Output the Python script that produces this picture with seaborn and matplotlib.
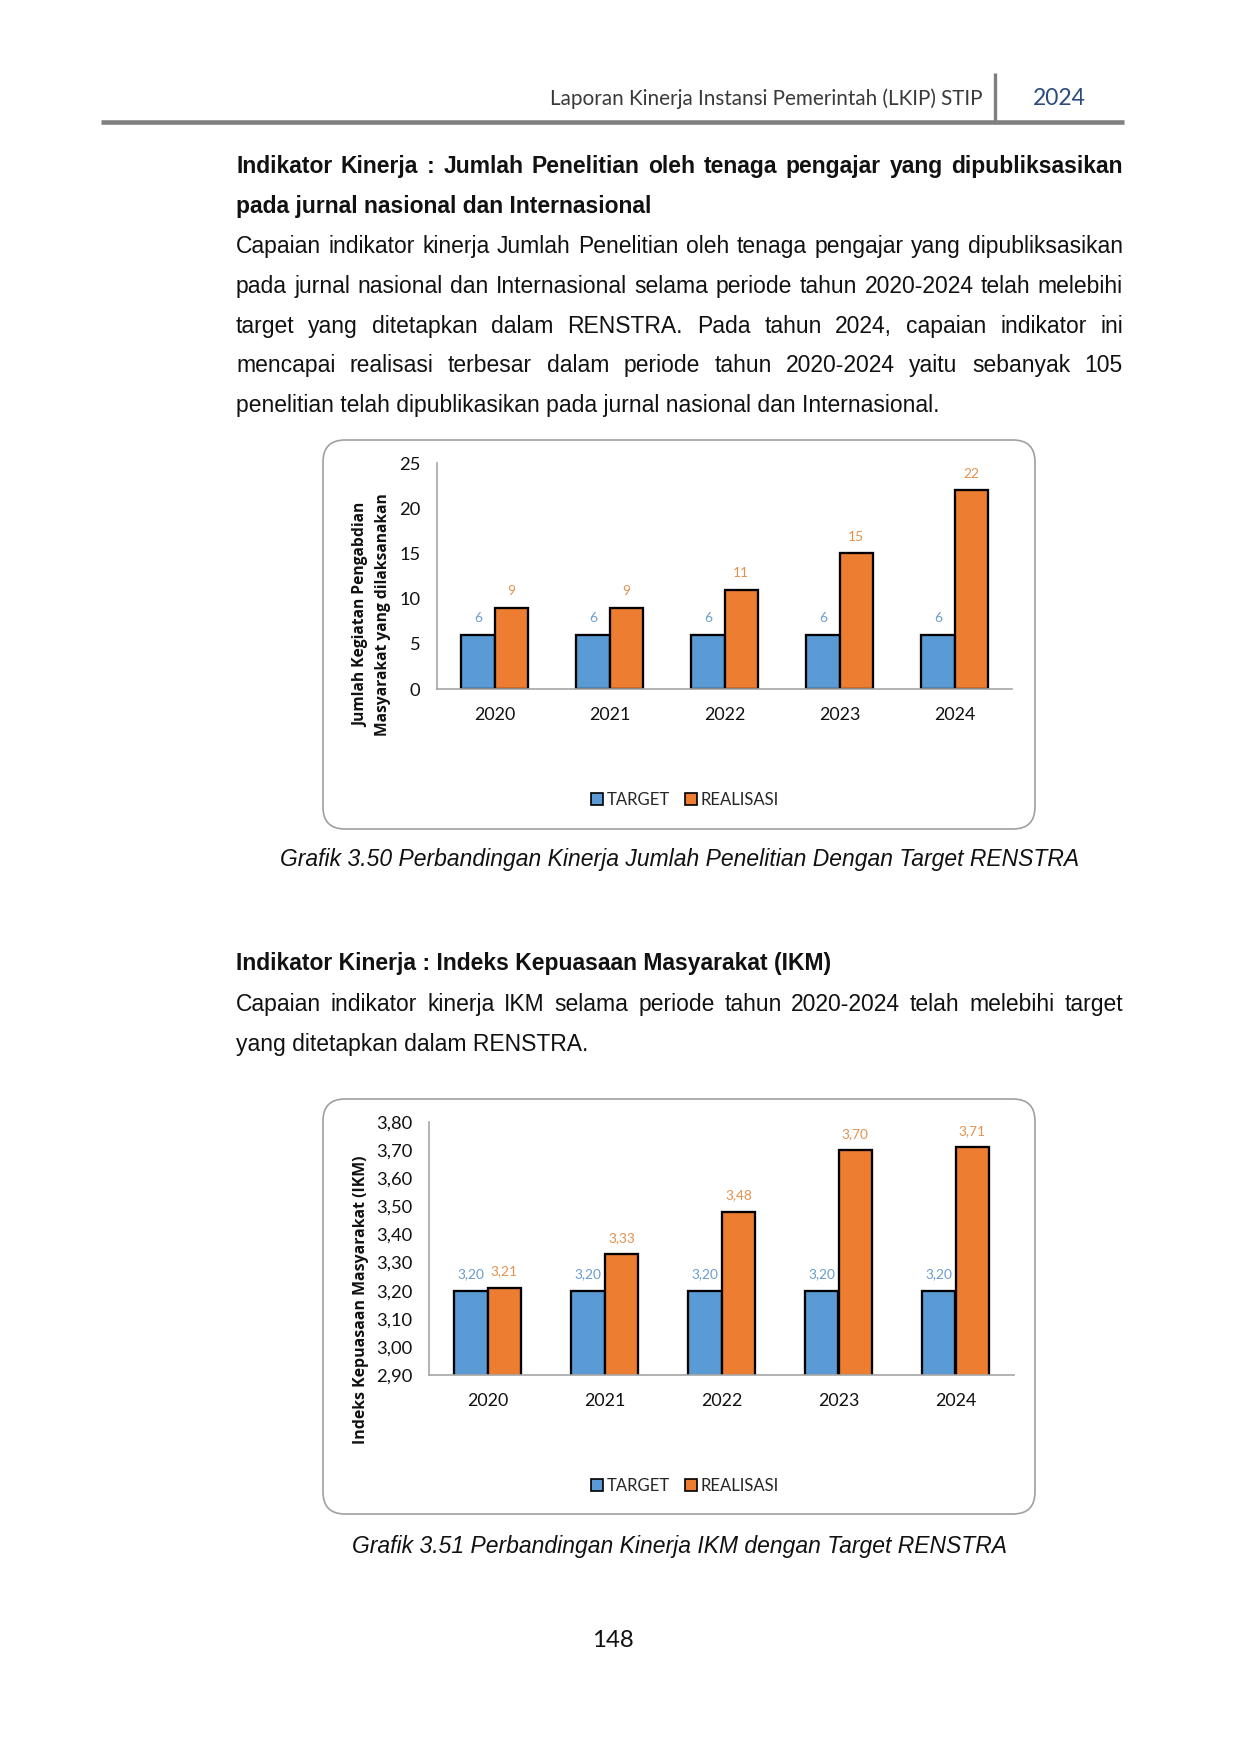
import numpy as np
import pandas as pd
import matplotlib
matplotlib.use("Agg")
import matplotlib.pyplot as plt
from matplotlib.patches import FancyBboxPatch, Patch
import seaborn as sns

# ── Data ──────────────────────────────────────────────────────────────────────
YEARS = ["2020", "2021", "2022", "2023", "2024"]
SERIES = ["TARGET", "REALISASI"]

PENELITIAN_TARGET = [6, 6, 6, 6, 6]
PENELITIAN_REALISASI = [9, 9, 11, 15, 22]
PENELITIAN_TICKS = [0, 5, 10, 15, 20, 25]

IKM_TARGET = [3.20, 3.20, 3.20, 3.20, 3.20]
IKM_REALISASI = [3.21, 3.33, 3.48, 3.70, 3.71]
IKM_TICKS = [2.90, 3.00, 3.10, 3.20, 3.30, 3.40, 3.50, 3.60, 3.70, 3.80]

# ── Page text ─────────────────────────────────────────────────────────────────
HEADER = "Laporan Kinerja Instansi Pemerintah (LKIP) STIP"
HEADER_YEAR = "2024"

HEAD1 = ["Indikator Kinerja : Jumlah Penelitian oleh tenaga pengajar yang dipubliksasikan",
         "pada jurnal nasional dan Internasional"]
BODY1 = ["Capaian indikator kinerja Jumlah Penelitian oleh tenaga pengajar yang dipubliksasikan",
         "pada jurnal nasional dan Internasional selama periode tahun 2020-2024 telah melebihi",
         "target yang ditetapkan dalam RENSTRA. Pada tahun 2024, capaian indikator ini",
         "mencapai realisasi terbesar dalam periode tahun 2020-2024 yaitu sebanyak 105",
         "penelitian telah dipublikasikan pada jurnal nasional dan Internasional."]
CAPTION1 = "Grafik 3.50 Perbandingan Kinerja Jumlah Penelitian Dengan Target RENSTRA"

HEAD2 = ["Indikator Kinerja : Indeks Kepuasaan Masyarakat (IKM)"]
BODY2 = ["Capaian indikator kinerja IKM selama periode tahun 2020-2024 telah melebihi target",
         "yang ditetapkan dalam RENSTRA."]
CAPTION2 = "Grafik 3.51 Perbandingan Kinerja IKM dengan Target RENSTRA"
PAGE_NO = "148"

YLABEL1 = "Jumlah Kegiatan Pengabdian\nMasyarakat yang dilaksanakan"
YLABEL2 = "Indeks Kepuasaan Masyarakat (IKM)"

# ── Style ─────────────────────────────────────────────────────────────────────
BLUE = "#5B9BD5"
ORANGE = "#ED7D31"
BLUE_LBL = "#6A9CCE"
ORANGE_LBL = "#E3914F"
TEXT = "#111111"
AXIS = "#a6a6a6"
BODY_FONT = "Liberation Sans"
CHART_FONT = "Lato"

sns.set_style("white")
plt.rcParams["font.family"] = ["Lato", "DejaVu Sans"]

W, H, DPI = 1241, 1754, 150
fig = plt.figure(figsize=(W / DPI, H / DPI), dpi=DPI)
bg = fig.add_axes([0, 0, 1, 1])
bg.set_xlim(0, W)
bg.set_ylim(H, 0)
bg.axis("off")
renderer = fig.canvas.get_renderer()

X0, X1 = 236, 1123
LINE = 39.8


def word_width(word, **kw):
    t = bg.text(0, 0, word, **kw)
    w = t.get_window_extent(renderer).width
    t.remove()
    return w


def paragraph(lines, y, **kw):
    """Justified paragraph, last line left aligned."""
    space = word_width("a b", **kw) - word_width("ab", **kw)
    for i, line in enumerate(lines):
        yy = y + i * LINE
        if i == len(lines) - 1:
            bg.text(X0, yy, line, va="baseline", ha="left", color=TEXT, **kw)
            continue
        words = line.split(" ")
        widths = [word_width(wd, **kw) for wd in words]
        gap = (X1 - X0 - sum(widths)) / (len(words) - 1)
        gap = max(gap, space * 0.8)
        x = X0
        for wd, ww in zip(words, widths):
            bg.text(x, yy, wd, va="baseline", ha="left", color=TEXT, **kw)
            x += ww + gap


body_kw = dict(family=BODY_FONT, fontsize=11)
bold_kw = dict(family=BODY_FONT, fontsize=11, weight="bold")

# header
bg.text(983, 105, HEADER, ha="right", va="baseline", family="Lato", fontsize=9.9, color="#3a3a3a")
bg.text(1059, 105, HEADER_YEAR, ha="center", va="baseline", family="Lato", fontsize=11, color="#2b4a7e")
bg.plot([995, 995], [73, 121], color="#7f7f7f", lw=1.6, solid_capstyle="butt")
bg.plot([101, 1124], [122, 122], color="#808080", lw=2.2, solid_capstyle="butt")

paragraph(HEAD1, 173, **bold_kw)
paragraph(BODY1, 253, **body_kw)
paragraph(HEAD2, 970, **bold_kw)
paragraph(BODY2, 1011, **body_kw)

bg.text(680, 866, CAPTION1, ha="center", va="baseline", family=BODY_FONT, fontsize=11,
        style="italic", color=TEXT)
bg.text(680, 1553, CAPTION2, ha="center", va="baseline", family=BODY_FONT, fontsize=11,
        style="italic", color=TEXT)
bg.text(613, 1647, PAGE_NO, ha="center", va="baseline", family="Lato", fontsize=11.5, color=TEXT)

# chart frames
for (top, bottom) in [(440, 829), (1099, 1514)]:
    bg.add_patch(FancyBboxPatch((323, top), 712, bottom - top,
                                boxstyle="round,pad=0,rounding_size=22",
                                facecolor="white", edgecolor="#a0a0a0", lw=0.8))


def px_axes(left, top, right, bottom):
    return fig.add_axes([left / W, 1 - bottom / H, (right - left) / W, (bottom - top) / H])


def fmt_comma(v):
    return f"{v:.2f}".replace(".", ",")


def fmt_int(v):
    return f"{v:g}"


def draw_chart(ax, target, realisasi, ticks, ylim, fmt):
    df = pd.DataFrame({"Tahun": YEARS * 2,
                       "Seri": [SERIES[0]] * len(YEARS) + [SERIES[1]] * len(YEARS),
                       "Nilai": list(target) + list(realisasi)})
    sns.barplot(data=df, x="Tahun", y="Nilai", hue="Seri", palette=[BLUE, ORANGE],
                width=0.576, edgecolor="black", linewidth=1.1, saturation=1,
                legend=False, ax=ax)
    ax.set_facecolor("none")
    ax.set_ylim(*ylim)
    ax.set_xlim(-0.5, len(YEARS) - 0.5)
    ax.set_yticks(ticks)
    ax.set_yticklabels([fmt(t) for t in ticks], family=CHART_FONT, fontsize=8.8, color=TEXT)
    ax.set_xticks(range(len(YEARS)))
    ax.set_xticklabels(YEARS, family=CHART_FONT, fontsize=8.6, color=TEXT)
    ax.tick_params(axis="y", length=0, pad=8)
    ax.tick_params(axis="x", length=0, pad=8.5)
    ax.set_xlabel("")
    ax.set_ylabel("")
    sns.despine(ax=ax)
    for s in ["left", "bottom"]:
        ax.spines[s].set_color(AXIS)
        ax.spines[s].set_linewidth(0.8)
    for cont, vals, col in zip(ax.containers, [target, realisasi], [BLUE_LBL, ORANGE_LBL]):
        ax.bar_label(cont, labels=[fmt(v) for v in vals], padding=5, color=col,
                     family=CHART_FONT, fontsize=6.6)


ax1 = px_axes(437, 463, 1012, 689)
draw_chart(ax1, PENELITIAN_TARGET, PENELITIAN_REALISASI, PENELITIAN_TICKS, (0, 25), fmt_int)
bg.text(372, 615, YLABEL1, rotation=90, ha="center", va="center", family="Open Sans",
        fontsize=7.5, weight="bold", color=TEXT, linespacing=1.45)

ax2 = px_axes(429, 1122, 1014, 1375)
draw_chart(ax2, IKM_TARGET, IKM_REALISASI, IKM_TICKS, (2.9, 3.8), fmt_comma)
bg.text(361, 1300, YLABEL2, rotation=90, ha="center", va="center", family="Open Sans",
        fontsize=7.6, weight="bold", color=TEXT)

# legends
handles = [Patch(facecolor=BLUE, edgecolor="black", lw=0.8, label=SERIES[0]),
           Patch(facecolor=ORANGE, edgecolor="black", lw=0.8, label=SERIES[1])]
for ly in [800, 1486]:
    fig.legend(handles=handles, loc="center", bbox_to_anchor=(685 / W, 1 - ly / H),
               ncol=2, frameon=False, handlelength=0.7, handleheight=0.7,
               handletextpad=0.25, columnspacing=0.9,
               prop={"family": CHART_FONT, "size": 8})

fig.savefig("out.png", dpi=DPI, facecolor="white")
